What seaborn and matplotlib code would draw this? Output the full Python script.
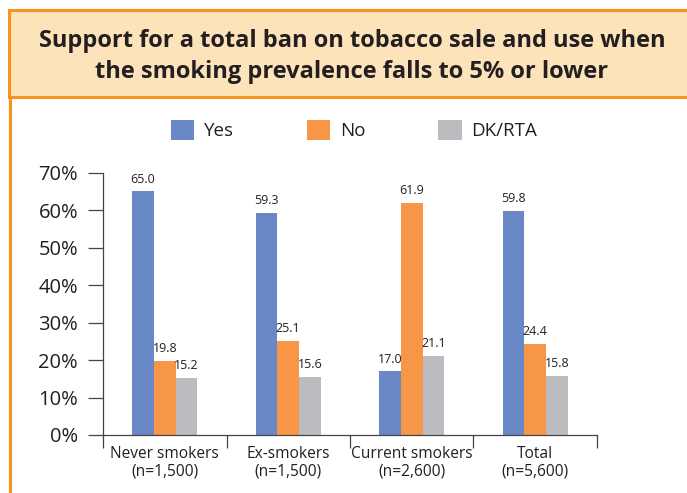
import matplotlib
matplotlib.use("Agg")
import matplotlib.pyplot as plt
import seaborn as sns
import pandas as pd
from matplotlib.patches import Rectangle
from matplotlib.lines import Line2D
from matplotlib import font_manager as fm

categories = ["Never smokers\n(n=1,500)", "Ex-smokers\n(n=1,500)",
              "Current smokers\n(n=2,600)", "Total\n(n=5,600)"]
responses = ["Yes", "No", "DK/RTA"]
yes_vals = [65.0, 59.3, 17.0, 59.8]
no_vals = [19.8, 25.1, 61.9, 24.4]
dk_vals = [15.2, 15.6, 21.1, 15.8]
yticks = [0, 10, 20, 30, 40, 50, 60, 70]
title = "Support for a total ban on tobacco sale and use when\nthe smoking prevalence falls to 5% or lower"

colors = ["#6A88C6", "#F79646", "#BBBCBF"]

sns.set_theme(style="white")
names = {f.name for f in fm.fontManager.ttflist}
main_font = "Open Sans" if "Open Sans" in names else "DejaVu Sans"
narrow_font = "Liberation Sans Narrow" if "Liberation Sans Narrow" in names else main_font
plt.rcParams["font.family"] = [main_font, "DejaVu Sans"]

rows = []
for i, c in enumerate(categories):
    for r, vals in zip(responses, [yes_vals, no_vals, dk_vals]):
        rows.append({"category": c, "response": r, "value": vals[i]})
df = pd.DataFrame(rows)

W, H = 687, 493
fig = plt.figure(figsize=(W / 100, H / 100), dpi=100)
fig.patch.set_facecolor("white")

# Title box
fig.patches.append(Rectangle((9 / W, 1 - 97 / H), 1.0, 87 / H, transform=fig.transFigure,
                             facecolor="#FDE3BA", edgecolor="#F7941D", linewidth=2.2, zorder=0))
fig.lines.append(Line2D([10 / W, 10 / W], [0, 1 - 97 / H], transform=fig.transFigure,
                        color="#F7941D", linewidth=2.2))
fig.text(352 / W, 1 - 56.5 / H, title, ha="center", va="center", fontsize=17,
         fontweight="bold", color="#231F20", linespacing=1.35)

ax = fig.add_axes([103 / W, 1 - 435 / H, (597 - 103) / W, (435 - 172.7) / H])
sns.barplot(data=df, x="category", y="value", hue="response", hue_order=responses,
            palette=colors, width=0.53, saturation=1, ax=ax, legend=False,
            linewidth=0, edgecolor="none")

ax.set_ylim(0, 70)
ax.set_xlim(-0.5, len(categories) - 0.5)
ax.set_yticks(yticks)
ax.set_yticklabels([f"{v}%" for v in yticks], fontsize=14.5, color="#231F20")
ax.set_xlabel("")
ax.set_ylabel("")
ax.tick_params(axis="y", direction="out", length=11, width=0.9, color="#444444", pad=7, left=True)
ax.set_xticks(range(len(categories)))
ax.set_xticklabels(categories, fontsize=11.2, color="#231F20", linespacing=1.1)
ax.tick_params(axis="x", which="major", length=0, pad=8)
ax.set_xticks([i - 0.5 for i in range(len(categories) + 1)], minor=True)
ax.tick_params(axis="x", which="minor", direction="out", length=9.5, width=0.9,
               color="#444444", bottom=True)
for s in ["top", "right"]:
    ax.spines[s].set_visible(False)
for s in ["left", "bottom"]:
    ax.spines[s].set_color("#444444")
    ax.spines[s].set_linewidth(0.9)

for cont in ax.containers:
    ax.bar_label(cont, fmt="%.1f", padding=4, fontsize=9, color="#231F20",
                 family=narrow_font)

# Legend
handles = [Rectangle((0, 0), 1, 1, facecolor=c, edgecolor="none") for c in colors]
fig.legend(handles, responses, loc="center", bbox_to_anchor=(354 / W, 1 - 130 / H),
           ncol=3, frameon=False, fontsize=13.5, handlelength=1.25, handleheight=1.25,
           columnspacing=3.9, handletextpad=0.5, labelcolor="#231F20")

fig.savefig("out.png", dpi=100)
